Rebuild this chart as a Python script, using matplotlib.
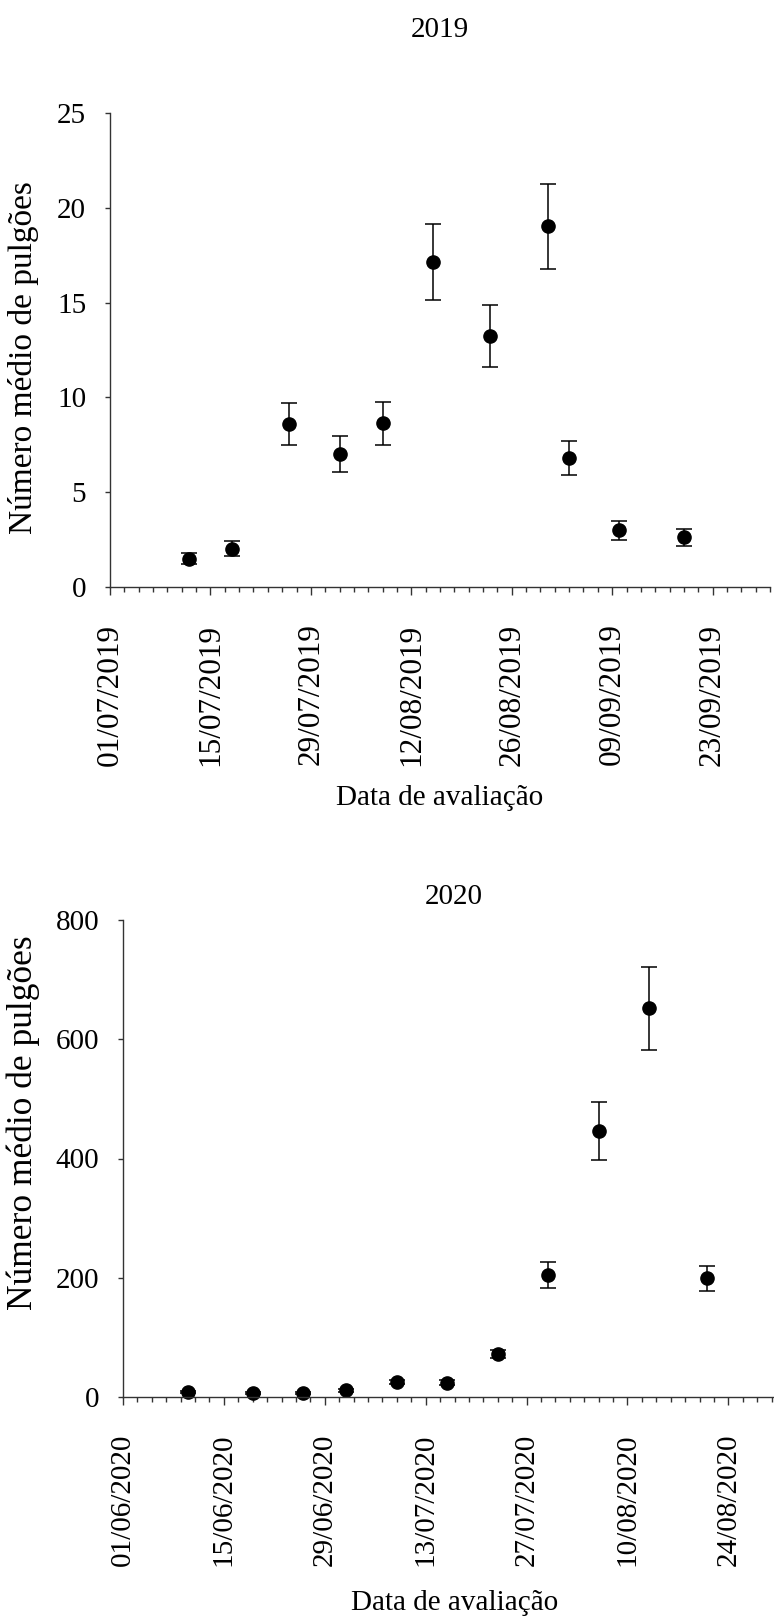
import numpy as np
import pandas as pd
import matplotlib
matplotlib.use('Agg')
import matplotlib.pyplot as plt

plt.rcParams['font.family'] = ['Liberation Serif', 'DejaVu Serif']

# ------------------- Data 2019 -------------------
datas_2019 = ['2019-07-12', '2019-07-18', '2019-07-26', '2019-08-02', '2019-08-08', '2019-08-15',
              '2019-08-23', '2019-08-31', '2019-09-03', '2019-09-10', '2019-09-19']
media_2019 = [1.49, 2.02, 8.59, 7.0, 8.63, 17.12, 13.24, 19.03, 6.79, 2.98, 2.63]
erro_2019 = [0.28, 0.4, 1.1, 0.94, 1.13, 2.0, 1.63, 2.25, 0.9, 0.48, 0.45]

# ------------------- Data 2020 -------------------
datas_2020 = ['2020-06-10', '2020-06-19', '2020-06-26', '2020-07-02', '2020-07-09', '2020-07-16',
              '2020-07-23', '2020-07-30', '2020-08-06', '2020-08-13', '2020-08-21']
media_2020 = [8, 7, 6.5, 11, 25, 24, 72, 204, 446, 652, 199]
erro_2020 = [2, 2, 2, 3, 4, 4, 7, 22, 48, 70, 21]

yticks_2019 = [0, 5, 10, 15, 20, 25]
yticks_2020 = [0, 200, 400, 600, 800]

fs = 21  # horizontal text

fig = plt.figure(figsize=(7.74, 16.21), dpi=100)

W, H = 774.0, 1621.0


def make_axes(left, top, right, bottom):
    return fig.add_axes([left / W, 1 - bottom / H, (right - left) / W, (bottom - top) / H])


def style_axes(ax, start, end, yticks, last_label, fs_rot, fs_ylab):
    for s in ['top', 'right']:
        ax.spines[s].set_visible(False)
    for s in ['left', 'bottom']:
        ax.spines[s].set_linewidth(1.0)
        ax.spines[s].set_color('#333333')
    ax.set_xlim(pd.Timestamp(start), pd.Timestamp(end))
    ax.set_ylim(yticks[0], yticks[-1])
    ax.set_yticks(yticks)
    major = pd.date_range(start, end, freq='14D')
    minor = pd.date_range(start, end, freq='2D')
    ax.set_xticks(major)
    ax.set_xticks(minor, minor=True)
    labels = [d.strftime('%d/%m/%Y') if d <= pd.Timestamp(last_label) else '' for d in major]
    ax.set_xticklabels(labels, rotation=90, va='top', ha='center', fontsize=fs_rot)
    ax.tick_params(axis='x', which='major', direction='out', length=5.8, width=1.0, pad=20.5,
                   color='#333333')
    ax.tick_params(axis='x', which='minor', direction='out', length=3.6, width=1.0, color='#333333')
    ax.tick_params(axis='y', direction='out', length=3.6, width=1.0, pad=13.5, labelsize=fs,
                   color='#333333')
    ax.set_ylabel('Número médio de pulgões', fontsize=fs_ylab)


# ------------------- 2019 -------------------
ax1 = make_axes(110, 113, 770, 587)
ax1.errorbar(pd.to_datetime(datas_2019), media_2019, yerr=erro_2019, fmt='o', color='black',
             markersize=9.5, capsize=6, elinewidth=1.1, capthick=1.1, clip_on=False)
style_axes(ax1, '2019-07-01', '2019-10-01', yticks_2019, '2019-09-23', 22.5, 24)
ax1.yaxis.set_label_coords(-0.107, 0.484)
ax1.set_xlabel('Data de avaliação', fontsize=fs)
ax1.xaxis.set_label_coords(0.5, -(785 - 587) / 474.0)
fig.text(440 / W, 1 - 30 / H, '2019', ha='center', va='center', fontsize=fs)

# ------------------- 2020 -------------------
ax2 = make_axes(123, 920, 786, 1397)
ax2.errorbar(pd.to_datetime(datas_2020), media_2020, yerr=erro_2020, fmt='o', color='black',
             markersize=9.5, capsize=6, elinewidth=1.1, capthick=1.1, clip_on=False)
style_axes(ax2, '2020-06-01', '2020-09-01', yticks_2020, '2020-08-24', 21, 25.5)
ax2.yaxis.set_label_coords(-0.125, 0.575)
ax2.set_xlabel('Data de avaliação', fontsize=fs)
ax2.xaxis.set_label_coords(0.5, -(1590 - 1397) / 477.0)
fig.text(454 / W, 1 - 897 / H, '2020', ha='center', va='center', fontsize=fs)

plt.savefig('out.png', dpi=100)
